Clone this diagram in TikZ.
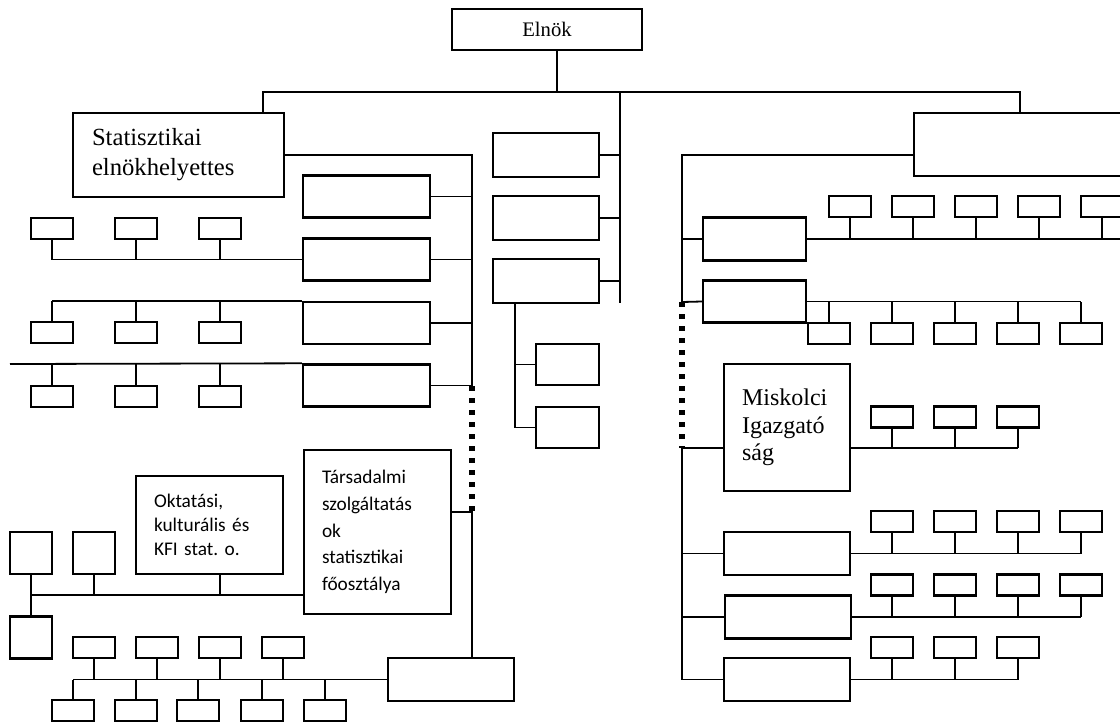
\documentclass[tikz,border=0pt]{standalone}
\usepackage{fontspec}
\setmainfont{Liberation Serif}
\newfontfamily\calibfont{Carlito}
\frenchspacing

\tikzset{every picture/.style={line width=1.35pt}}
\tikzset{
  box/.style={draw, line width=1.8pt, inner sep=0pt},
  sbox/.style={box, minimum width=31.5pt, minimum height=15.75pt},
  dotline/.style={line width=4pt, dash pattern=on 4pt off 5pt},
}

\begin{document}
\begin{tikzpicture}[x=0.75pt,y=0.75pt,yscale=-1,xscale=1]
\useasboundingbox (0,0) rectangle (1120,722);

% top
\node[box, minimum width=142.5pt, minimum height=30.75pt, font=\fontsize{15.5}{18}\selectfont] (elnok) at (547,29.5) {Elnök};
\coordinate (topL) at (263,92);
\coordinate (topR) at (1020,92);
\coordinate (ej) at (557,92);
\coordinate (midtop) at (620,92);
\coordinate (midbot) at (620,303);

\node[box, minimum width=158.25pt, minimum height=63pt, inner xsep=14.25pt, text width=129.75pt, align=left, font=\fontsize{18.5}{22.5}\selectfont] (stat) at (178.5,155) {Statisztikai\\elnökhelyettes};
\node[box, minimum width=169.5pt, minimum height=47.25pt] (rbig) at (1027,144.5) {};

\draw (elnok.south -| ej) -- (ej);
\draw (stat.north -| topL) -- (topL) -- (topR) -- (rbig.north -| topR);
\draw (midtop) -- (midbot);

% middle column
\node[box, minimum width=79.5pt, minimum height=33pt] (m1) at (546,155) {};
\node[box, minimum width=79.5pt, minimum height=33pt] (m2) at (546,218) {};
\node[box, minimum width=79.5pt, minimum height=33pt] (m3) at (546,281) {};
\node[box, minimum width=47.25pt, minimum height=30.75pt] (m4) at (567.5,364.5) {};
\node[box, minimum width=47.25pt, minimum height=30.75pt] (m5) at (567.5,427.5) {};
\coordinate (mcol) at (515,429);
\foreach \i in {1,2,3} \draw (m\i.east) -- (m\i.east -| midtop);
\draw (m3.south -| mcol) |- (m5.west);
\draw (m4.west) -- (m4.west -| mcol);

% left column
\coordinate (ldot) at (472,386);
\coordinate (ldot2) at (472,512);
\foreach \i/\y in {1/196.5,2/259.5,3/323,4/385.5} {
  \node[box, minimum width=95.25pt, minimum height=31.5pt] (l\i) at (366.5,\y) {};
  \draw (l\i.east) -- (l\i.east -| ldot);
}
\draw (stat.east) -| (ldot);
\draw[dotline] (ldot) -- (ldot2);

\foreach \i/\x in {1/52,2/136,3/220} {
  \node[sbox] (la\i) at (\x,228.5) {};
  \node[sbox] (lb\i) at (\x,332.5) {};
  \node[sbox] (lc\i) at (\x,396.5) {};
  \draw (la\i.south) -- (la\i.south |- l2.west);
  \draw (lb\i.north) -- (lb\i.north |- l3.north west);
  \draw (lc\i.north) -- (lc\i.north |- l4.north west);
}
\coordinate (lfree) at (10,364);
\draw (l2.west) -- (la1.south |- l2.west);
\draw (l3.north west) -- (lb1.north |- l3.north west);
\draw (l4.north west) -- (lfree);

% lower left
\node[box, minimum width=110.25pt, minimum height=73.5pt, inner xsep=13.5pt, text width=83.25pt, align=left, font=\calibfont\fontsize{14.5}{18}\selectfont] (okt) at (209.5,525) {Oktatási,\\kulturális és\\KFI stat. o.};
\node[box, minimum width=110.25pt, minimum height=123pt, inner xsep=13.5pt, text width=83.25pt, align=left, font=\calibfont\fontsize{14.5}{20}\selectfont] (tars) at (377.5,532) {Társadalmi\\szolgáltatás\\ok\\statisztikai\\főosztálya};
\node[box, minimum width=31.5pt, minimum height=31.5pt] (boxa) at (31,553) {};
\node[box, minimum width=31.5pt, minimum height=31.5pt] (boxb) at (94,553) {};
\node[box, minimum width=31.5pt, minimum height=31.5pt] (boxc) at (31,637.5) {};
\node[box, minimum width=94.5pt, minimum height=32.25pt] (dbox) at (451,679.5) {};
\coordinate (bl) at (31,595);

\draw (tars.east |- ldot2) -- (ldot2) -- (dbox.north -| ldot2);
\draw (tars.west |- bl) -- (bl);
\draw (boxa.south) -- (bl) -- (boxc.north);
\draw (boxb.south) -- (boxb.south |- bl);

\foreach \i/\x in {1/94,2/157,3/220,4/283} {
  \node[sbox] (bt\i) at (\x,647.5) {};
  \draw (bt\i.south) -- (bt\i.south |- dbox.west);
}
\foreach \i/\x in {1/73,2/136,3/198,4/262,5/325} {
  \node[sbox] (bb\i) at (\x,710.5) {};
  \draw (bb\i.north) -- (bb\i.north |- dbox.west);
}
\draw (okt.south -| bt3.south) -- (bt3.south |- bl);
\draw (dbox.west) -- (bb1.north |- dbox.west);

% right column
\coordinate (rc1) at (682,155);
\coordinate (rdot1) at (682,302);
\coordinate (rdot2) at (682,448);
\coordinate (r1end) at (1120,239);
\node[box, minimum width=77.25pt, minimum height=32.25pt] (r1) at (754.5,239) {};
\node[box, minimum width=77.25pt, minimum height=31.5pt] (r2) at (754.5,301.5) {};
\node[box, minimum width=94.5pt, minimum height=95.25pt, inner xsep=13.5pt, text width=67.5pt, align=left, font=\fontsize{18}{20.5}\selectfont] (misk) at (787,427.5) {Miskolci\\Igazgató\\ság\\[6pt]};
\node[box, minimum width=94.5pt, minimum height=32.25pt] (ra) at (787,553.5) {};
\node[box, minimum width=94.5pt, minimum height=32.25pt] (rb) at (788,617) {};
\node[box, minimum width=94.5pt, minimum height=32.25pt] (rc) at (787,679.5) {};

\draw (rc1 -| rbig.west) -- (rc1) -- (rdot1);
\draw (r1.west) -- (r1.west -| rc1);
\draw (r2.west) -- (rdot1);
\draw[dotline] (rdot1) -- (rdot2);
\draw (rdot2 -| misk.west) -- (rdot2) |- (rc.west);
\draw (ra.west) -- (ra.west -| rdot2);
\draw (rb.west) -- (rb.west -| rdot2);

\foreach \i/\x in {1/850,2/913,3/976,4/1039,5/1102} {
  \node[sbox] (ta\i) at (\x,206.5) {};
  \draw (ta\i.south) -- (ta\i.south |- r1.east);
}
\draw (r1.east) -- (r1end);

\foreach \i/\x in {1/829,2/892,3/955,4/1018,5/1081} {
  \node[sbox] (tb\i) at (\x,333.5) {};
  \draw (tb\i.north) -- (tb\i.north |- r2.east);
}
\draw (r2.east) -- (tb5.north |- r2.east);

\foreach \i/\x in {1/892,2/955,3/1018} {
  \node[sbox] (mk\i) at (\x,417) {};
  \draw (mk\i.south) -- (mk\i.south |- rdot2);
  \node[sbox] (rck\i) at (\x,647.5) {};
  \draw (rck\i.south) -- (rck\i.south |- rc.east);
}
\draw (rdot2 -| misk.east) -- (mk3.south |- rdot2);
\draw (rc.east) -- (rck3.south |- rc.east);

\foreach \i/\x in {1/892,2/955,3/1018,4/1081} {
  \node[sbox] (rak\i) at (\x,521.5) {};
  \draw (rak\i.south) -- (rak\i.south |- ra.east);
  \node[sbox] (rbk\i) at (\x,585) {};
  \draw (rbk\i.south) -- (rbk\i.south |- rb.east);
}
\draw (ra.east) -- (rak4.south |- ra.east);
\draw (rb.east) -- (rbk4.south |- rb.east);

\end{tikzpicture}
\end{document}
